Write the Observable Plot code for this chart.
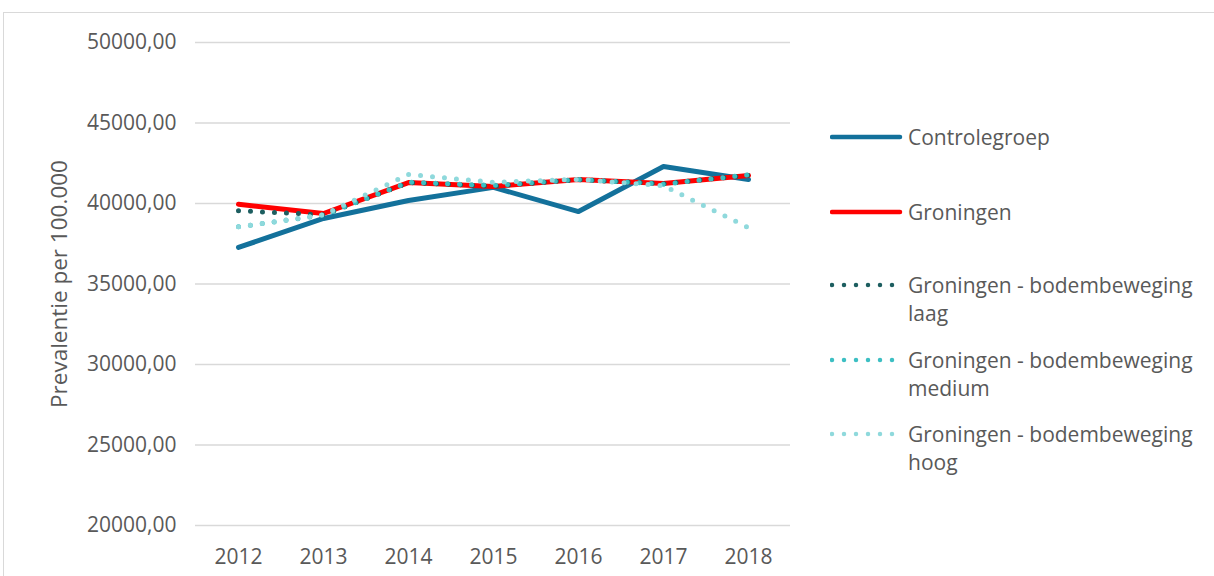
<!DOCTYPE html>
<html>
<head>
<meta charset="utf-8">
<script src="https://cdn.jsdelivr.net/npm/d3@7"></script>
<script src="https://cdn.jsdelivr.net/npm/@observablehq/plot@0.6"></script>
<style>
  html, body { margin: 0; padding: 0; background: #fff; }
  body { width: 1214px; height: 576px; overflow: hidden; position: relative; font-family: "Open Sans", sans-serif; }
  #frame { position: absolute; left: 3px; top: 12px; width: 1240px; height: 620px; border: 1px solid #d9d9d9; box-sizing: border-box; }
  #chart { position: absolute; left: 0; top: 0; }
  #legend { position: absolute; left: 830px; top: 0; color: #595959; font-size: 21px; }
  .item { position: absolute; left: 0; display: flex; align-items: flex-start; width: 380px; }
  .item svg { flex: none; margin-top: 0; }
  .item span { margin-left: 4px; line-height: 28px; }
</style>
</head>
<body>
<div id="frame"></div>
<div id="chart"></div>
<div id="legend"></div>
<script>
const years = ["2012", "2013", "2014", "2015", "2016", "2017", "2018"];
const controlegroep = [37270, 39070, 40190, 41000, 39500, 42300, 41490];
const groningen     = [39950, 39380, 41300, 41060, 41490, 41240, 41740];
const laag          = [39550, 39300, 41300, 41080, 41480, 41230, 41760];
const medium        = [38550, 39280, 41320, 41120, 41490, 41200, 41780];
const hoog          = [38550, 39300, 41800, 41320, 41500, 41100, 38500];
const yTicks = [20000, 25000, 30000, 35000, 40000, 45000, 50000];

const series = [
  {name: "Controlegroep", values: controlegroep, color: "#13719b", dash: null},
  {name: "Groningen", values: groningen, color: "#ff0000", dash: null},
  {name: "Groningen - bodembeweging laag", values: laag, color: "#1d5e60", dash: "0 12"},
  {name: "Groningen - bodembeweging medium", values: medium, color: "#3dbfc3", dash: "0 12"},
  {name: "Groningen - bodembeweging hoog", values: hoog, color: "#8fd9dc", dash: "0 12"}
];

const marks = [
  Plot.gridY(yTicks, {stroke: "#d9d9d9", strokeOpacity: 1, strokeWidth: 1.3}),
  Plot.axisY(yTicks, {tickSize: 0, tickPadding: 19, tickFormat: d => d + ",00", fontSize: 21, fill: "#595959", label: null}),
  Plot.axisX(years, {tickSize: 0, tickPadding: 24, fontSize: 21, fill: "#595959", label: null}),
  Plot.text(["Prevalentie per 100.000"], {frameAnchor: "left", textAnchor: "middle", text: d => d, rotate: -90, dx: -136, fontSize: 22.5, fill: "#595959"})
];
for (const s of series) {
  const data = years.map((y, i) => ({year: y, value: s.values[i]}));
  marks.push(Plot.line(data, {
    x: "year", y: "value", stroke: s.color,
    strokeWidth: 5,
    strokeDasharray: s.dash || undefined,
    strokeLinecap: "round", strokeLinejoin: "round"
  }));
}

const chart = Plot.plot({
  width: 800, height: 576,
  marginLeft: 195, marginRight: 10, marginTop: 42, marginBottom: 51,
  style: {fontFamily: "'Open Sans', sans-serif", background: "transparent", color: "#595959"},
  x: {type: "point", domain: years, padding: 0.5},
  y: {domain: [20000, 50000]},
  marks
});
document.getElementById("chart").appendChild(chart);

const legendTops = [123, 198, 271, 346, 420];
const legend = document.getElementById("legend");
series.forEach((s, i) => {
  const item = document.createElement("div");
  item.className = "item";
  item.style.top = legendTops[i] + "px";
  const svgNS = "http://www.w3.org/2000/svg";
  const svg = document.createElementNS(svgNS, "svg");
  svg.setAttribute("width", 74); svg.setAttribute("height", 28);
  const ln = document.createElementNS(svgNS, "line");
  ln.setAttribute("x1", 2); ln.setAttribute("x2", 70);
  ln.setAttribute("y1", 14); ln.setAttribute("y2", 14);
  ln.setAttribute("stroke", s.color);
  ln.setAttribute("stroke-width", 4.5);
  ln.setAttribute("stroke-linecap", "round");
  if (s.dash) ln.setAttribute("stroke-dasharray", "0 12");
  svg.appendChild(ln);
  const t = document.createElement("span");
  t.textContent = s.name;
  item.appendChild(svg); item.appendChild(t);
  legend.appendChild(item);
});
</script>
</body>
</html>
